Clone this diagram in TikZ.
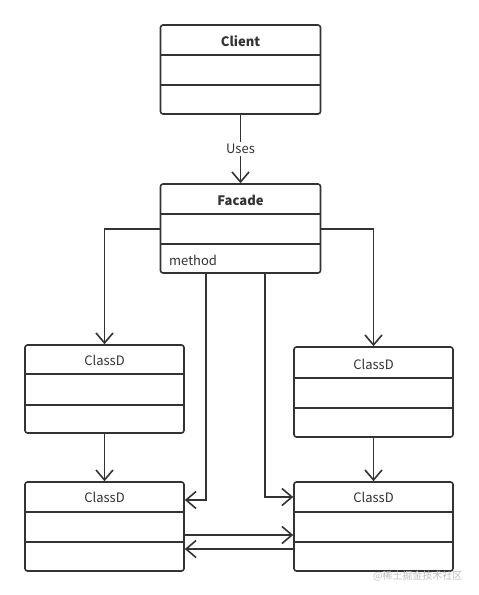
\documentclass[tikz,border=0pt]{standalone}
\usepackage{fontspec}
\setmainfont{Noto Sans CJK SC}
\usetikzlibrary{arrows.meta}
\definecolor{ink}{HTML}{333333}
\tikzset{
  umlbox/.style={draw=ink, line width=1.6pt, rounded corners=2.5pt, fill=white, inner sep=0pt},
  divline/.style={draw=ink, line width=1.6pt},
  conn/.style={draw=ink, line width=1.6pt, -{Straight Barb[length=10pt,width=17pt,line width=1.6pt]}},
  plainconn/.style={draw=ink, line width=1.6pt},
  ttl/.style={font=\fontsize{13}{15}\selectfont, text=ink, inner sep=1pt},
  ttlb/.style={font=\bfseries\fontsize{13}{15}\selectfont, text=ink, inner sep=1pt},
}
\begin{document}
\begin{tikzpicture}[x=1pt,y=-1pt]
\useasboundingbox (0,0) rectangle (479,595);
% Client
\node[umlbox, minimum width=160, minimum height=89] (client) at (240.5,69.5) {};
\node[ttlb] (clientt) at (240.5,41) {Client};
\draw[divline] (161,55) -- (320,55);
\draw[divline] (161,85) -- (320,85);
% Facade
\node[umlbox, minimum width=160, minimum height=89] (facade) at (240.5,228.5) {};
\node[ttlb] (facadet) at (240.5,200) {Facade};
\node[ttl, anchor=west] (method) at (168,260) {method};
\draw[divline] (161,214) -- (320,214);
\draw[divline] (161,244) -- (320,244);
% Left ClassD 1
\node[umlbox, minimum width=159, minimum height=88] (l1) at (104.5,389) {};
\node[ttl] (l1t) at (104.5,360) {ClassD};
\draw[divline] (25,374) -- (184,374);
\draw[divline] (25,405) -- (184,405);
% Right ClassD 1
\node[umlbox, minimum width=159, minimum height=90] (r1) at (373.5,392) {};
\node[ttl] (r1t) at (373.5,364) {ClassD};
\draw[divline] (294,378) -- (453,378);
\draw[divline] (294,408) -- (453,408);
% Left ClassD 2
\node[umlbox, minimum width=159, minimum height=89] (l2) at (104.5,526.5) {};
\node[ttl] (l2t) at (104.5,497) {ClassD};
\draw[divline] (25,512) -- (184,512);
\draw[divline] (25,542) -- (184,542);
% Right ClassD 2
\node[umlbox, minimum width=159, minimum height=89] (r2) at (373.5,526.5) {};
\node[ttl] (r2t) at (373.5,497) {ClassD};
\draw[divline] (294,512) -- (453,512);
\draw[divline] (294,542) -- (453,542);
% Connectors
\draw[conn] (client.south) -- node[ttl, fill=white, inner sep=2pt] (uses) {Uses} (facade.north);
\draw[conn] (facade.west |- 0,229) -| (l1.north);
\draw[conn] (facade.east |- 0,229) -| (r1.north);
\draw[conn] (l1.south) -- (l2.north);
\draw[conn] (r1.south) -- (r2.north);
\coordinate (fa) at (206,273);
\coordinate (fb) at (265,273);
\draw[conn] (fa) |- (l2.east |- 0,500);
\draw[conn] (fb) |- (r2.west |- 0,497);
\draw[conn] (l2.east |- 0,535) -- (r2.west |- 0,535);
\draw[conn] (r2.west |- 0,549) -- (l2.east |- 0,549);
% watermark
\node[font=\fontsize{10}{12}\selectfont, text=black!25, anchor=east] (wm) at (466,576) {@稀土掘金技术社区};
\end{tikzpicture}
\end{document}
